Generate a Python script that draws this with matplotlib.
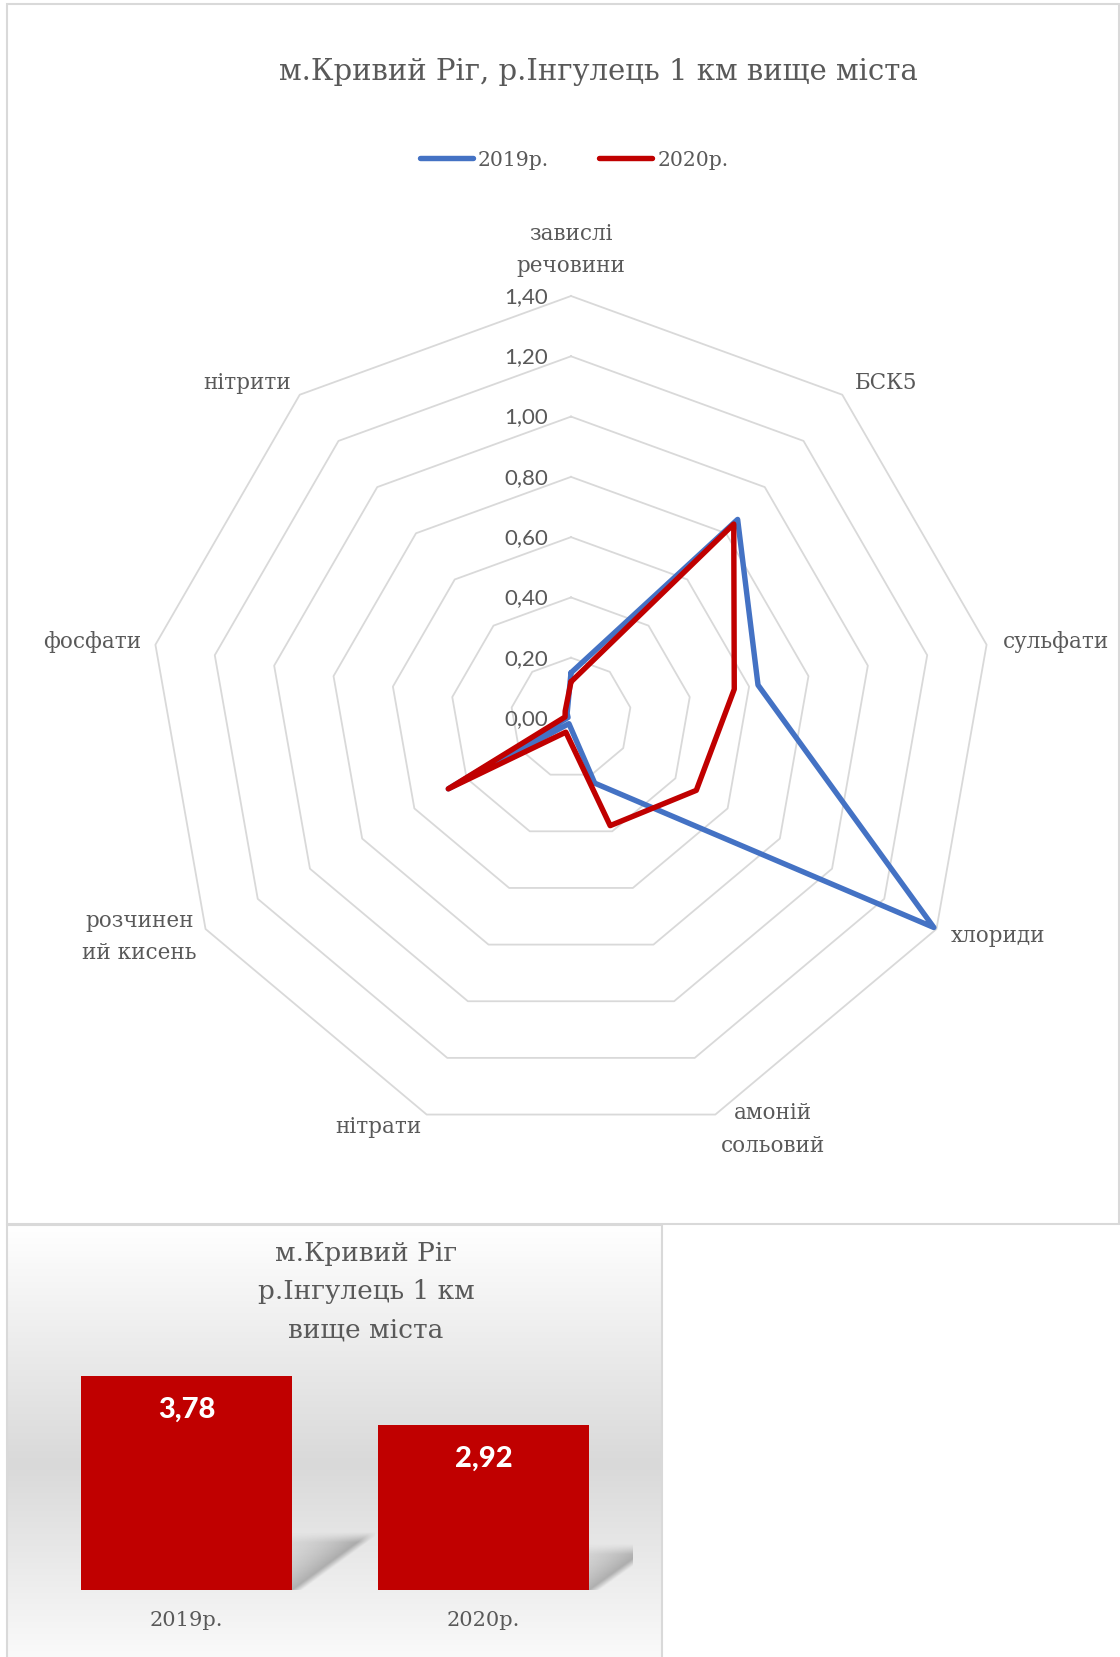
import numpy as np
import matplotlib
matplotlib.use("Agg")
import matplotlib.pyplot as plt
from matplotlib.patches import Rectangle

# ---- radar data -------------------------------------------------------
categories = ["завислі\nречовини", "БСК5", "сульфати", "хлориди",
              "амоній\nсольовий", "нітрати", "розчинен\nий кисень",
              "фосфати", "нітрити"]
series_2019 = [0.15, 0.86, 0.63, 1.39, 0.23, 0.02, 0.47, 0.01, 0.02]
series_2020 = [0.12, 0.84, 0.55, 0.48, 0.38, 0.05, 0.47, 0.02, 0.03]
series_names = ["2019р.", "2020р."]
ring_levels = [0.0, 0.2, 0.4, 0.6, 0.8, 1.0, 1.2, 1.4]
ring_labels = ["0,00", "0,20", "0,40", "0,60", "0,80", "1,00", "1,20", "1,40"]
radar_title = "м.Кривий Ріг, р.Інгулець 1 км вище міста"

# ---- bar data ---------------------------------------------------------
bar_years = ["2019р.", "2020р."]
bar_totals = [3.78, 2.92]
bar_value_labels = ["3,78", "2,92"]
bar_title_lines = ["м.Кривий Ріг", "р.Інгулець 1 км", "вище міста"]

W, H = 1120, 1658
fig = plt.figure(figsize=(W / 100, H / 100), dpi=100)
fig.patch.set_facecolor("white")


def fx(x):
    return x / W


def fy(y):
    return 1 - y / H


TXT = "#595959"
GRID = "#d9d9d9"
BLUE = "#4472C4"
RED = "#C00000"
SERIF = "DejaVu Serif"

# ---- lower-left panel background (vertical gradient) -------------------
bg = fig.add_axes([fx(7), 0, fx(662) - fx(7), (H - 1226) / H])
rows = np.linspace(0, 1, 432)
shade = np.interp(rows, [0.0, 0.553, 1.0], [1.0, 0.851, 0.98])
grad = np.repeat(shade[:, None, None], 3, axis=2)
bg.imshow(grad, aspect="auto", extent=[0, 1, 0, 1])
bg.set_axis_off()

# ---- panel frames -------------------------------------------------------
fig.add_artist(Rectangle((fx(7), fy(1225)), fx(1119) - fx(7), fy(5) - fy(1225),
                         transform=fig.transFigure, fill=False, ec=GRID, lw=1.5))
fig.add_artist(Rectangle((fx(7), fy(1662)), fx(662) - fx(7), fy(1226) - fy(1662),
                         transform=fig.transFigure, fill=False, ec=GRID, lw=1.5))

# ---- radar chart --------------------------------------------------------
cx, cy, R = 571, 719, 422
ax = fig.add_axes([fx(cx - R), fy(cy + R), 2 * R / W, 2 * R / H], projection="polar")
ax.set_theta_zero_location("N")
ax.set_theta_direction(-1)
ax.set_ylim(0, ring_levels[-1])
ax.set_axis_off()

n = len(categories)
theta = np.arange(n) * 2 * np.pi / n
theta_c = np.append(theta, theta[0])

for lvl in ring_levels[1:]:
    ax.plot(theta_c, [lvl] * (n + 1), color=GRID, lw=1.3, zorder=1, clip_on=False)

line19, = ax.plot(theta_c, series_2019 + series_2019[:1], color=BLUE, lw=3.9,
                  solid_joinstyle="round", solid_capstyle="round", zorder=3, clip_on=False)
line20, = ax.plot(theta_c, series_2020 + series_2020[:1], color=RED, lw=3.9,
                  solid_joinstyle="round", solid_capstyle="round", zorder=4, clip_on=False)

for lvl, lab in zip(ring_levels, ring_labels):
    ax.annotate(lab, xy=(0, lvl), xytext=(-23, 0), textcoords="offset pixels",
                ha="right", va="center", fontsize=16, family="Lato", color=TXT,
                annotation_clip=False)

label_offsets = [(0, 47, "center"), (13, 13, "left"), (16, 4, "left"),
                 (14, -6, "left"), (58, -14, "center"), (-5, -11, "right"),
                 (-66, -7, "center"), (-14, 4, "right"), (-9, 13, "right")]
for t, cat, (dx, dy, ha) in zip(theta, categories, label_offsets):
    ax.annotate(cat, xy=(t, ring_levels[-1]), xytext=(dx, dy), textcoords="offset pixels",
                ha=ha, va="center", multialignment="center", linespacing=1.6,
                fontsize=15.5, family=SERIF, color=TXT, annotation_clip=False)

fig.text(fx(598), fy(72), radar_title, ha="center", va="center",
         fontsize=21, family=SERIF, color=TXT)

ax.legend([line19, line20], series_names, loc="center",
          bbox_to_anchor=(fx(574), fy(161)), bbox_transform=fig.transFigure,
          ncol=2, frameon=False, prop=dict(family=SERIF, size=14.7),
          handlelength=2.6, handletextpad=0.25, columnspacing=2.45, labelcolor=TXT)

# ---- bar chart ----------------------------------------------------------
ymax = 4.5
axb = fig.add_axes([fx(38), fy(1591), fx(632) - fx(38), (ymax * 56.6) / H])
axb.set_xlim(-0.5, 1.5)
axb.set_ylim(0, ymax)
axb.set_axis_off()
axb.patch.set_alpha(0)

bar_w = 0.71
xs = np.arange(len(bar_totals))
axb.bar(xs, bar_totals, width=bar_w, color=RED, zorder=3)


def cast_shadow(i, v):
    """Soft perspective shadow falling up and to the right of a bar."""
    x_r = i + bar_w / 2
    p0 = axb.transData.transform((0, 0))
    p1 = axb.transData.transform((1, 1))
    sx, sy = p1[0] - p0[0], p1[1] - p0[1]
    h_px = v * sy
    DX, DY = 0.333 * h_px, 0.244 * h_px
    pad = 12
    u = np.arange(-2, DX + pad)
    w = np.arange(-pad, DY + pad)
    U, Wg = np.meshgrid(u, w)
    d = (Wg * DX - U * DY) / np.hypot(DX, DY)
    a = 0.42 * np.exp(-np.clip(d, 0, None) / 28.0)
    a *= np.clip((d + 6) / 6, 0, 1)
    a *= np.clip((DY - Wg + 6) / 10, 0, 1)
    rgba = np.zeros(U.shape + (4,))
    rgba[..., :3] = 0.35
    rgba[..., 3] = a
    ext = [x_r + u[0] / sx, x_r + u[-1] / sx, w[0] / sy, w[-1] / sy]
    axb.imshow(rgba, origin="lower", extent=ext, aspect="auto", zorder=2,
               interpolation="bilinear")


for i, v in zip(xs, bar_totals):
    cast_shadow(i, v)
axb.set_xlim(-0.5, 1.5)
axb.set_ylim(0, ymax)

for i, v, lab, yr in zip(xs, bar_totals, bar_value_labels, bar_years):
    axb.annotate(lab, xy=(i, v), xytext=(0, -33), textcoords="offset pixels",
                 ha="center", va="center", color="white", fontsize=21,
                 fontweight="black", family="Lato", zorder=5)
    axb.annotate(yr, xy=(i, 0), xytext=(0, -30), textcoords="offset pixels",
                 ha="center", va="center", color=TXT, fontsize=15, family=SERIF,
                 annotation_clip=False)

for k, line in enumerate(bar_title_lines):
    fig.text(fx(366), fy(1254 + 38 * k), line, ha="center", va="center",
             fontsize=19, family=SERIF, color=TXT)

fig.savefig("out.png", dpi=100, facecolor="white")
